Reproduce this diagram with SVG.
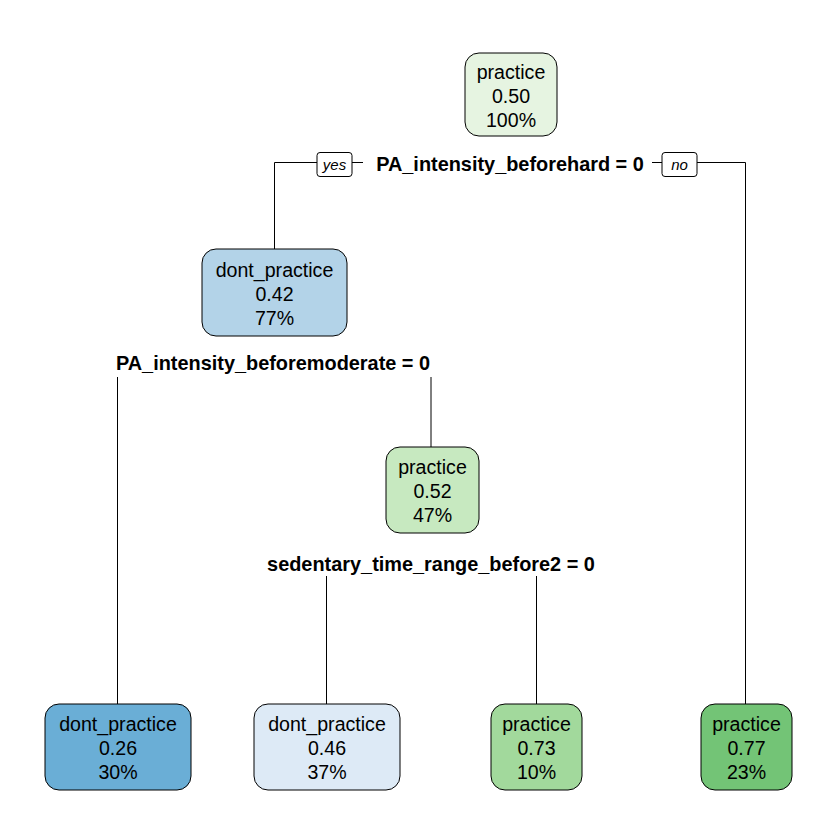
<svg xmlns="http://www.w3.org/2000/svg" width="840" height="840" viewBox="0 0 840 840">
<style>
.box{stroke:#000;stroke-width:1}
.t{font-family:"Liberation Sans",Arial,sans-serif;font-size:19.6px;text-anchor:middle;fill:#000}
.s{font-family:"Liberation Sans",Arial,sans-serif;font-size:19.9px;font-weight:bold;text-anchor:middle;fill:#000}
.yn{font-family:"Liberation Sans",Arial,sans-serif;font-size:15px;font-style:italic;text-anchor:middle;fill:#000}
.ln{stroke:#000;stroke-width:1;fill:none}
</style>
<rect width="840" height="840" fill="#fff"/>
<g id="connectors">
<polyline class="ln" points="317,162.5 274.5,162.5 274.5,249"/>
<line class="ln" x1="352" y1="162.5" x2="363" y2="162.5"/>
<line class="ln" x1="652" y1="162.5" x2="662" y2="162.5"/>
<polyline class="ln" points="697,162.5 745.5,162.5 745.5,704"/>
<line class="ln" x1="117.5" y1="377" x2="117.5" y2="704"/>
<line class="ln" x1="431" y1="377" x2="431" y2="447"/>
<line class="ln" x1="326.5" y1="576" x2="326.5" y2="704"/>
<line class="ln" x1="536.5" y1="576" x2="536.5" y2="704"/>
<rect class="box" x="317" y="152.5" width="35" height="24" rx="3" fill="#fff"/>
<text class="yn" x="334.5" y="170">yes</text>
<rect class="box" x="662" y="152.5" width="35" height="24" rx="3" fill="#fff"/>
<text class="yn" x="679.5" y="170">no</text>
</g>
<g id="node1">
<rect class="box" x="465" y="53" width="92" height="83" rx="14" fill="#E6F4E1"/>
<text class="t" x="511" y="79">practice</text>
<text class="t" x="511" y="103">0.50</text>
<text class="t" x="511" y="127">100%</text>
<text class="s" x="510" y="170.5">PA_intensity_beforehard = 0</text>
</g>
<g id="node2">
<rect class="box" x="202" y="249" width="145" height="87" rx="14" fill="#B3D3E8"/>
<text class="t" x="274.5" y="277">dont_practice</text>
<text class="t" x="274.5" y="301">0.42</text>
<text class="t" x="274.5" y="325">77%</text>
<text class="s" x="273" y="369.5">PA_intensity_beforemoderate = 0</text>
</g>
<g id="node3">
<rect class="box" x="386" y="447" width="93" height="86" rx="14" fill="#C7E9C0"/>
<text class="t" x="432.5" y="474">practice</text>
<text class="t" x="432.5" y="498">0.52</text>
<text class="t" x="432.5" y="522">47%</text>
<text class="s" x="431" y="570.5">sedentary_time_range_before2 = 0</text>
</g>
<g id="node4">
<rect class="box" x="45" y="704" width="146" height="86" rx="14" fill="#6AAED6"/>
<text class="t" x="118" y="731">dont_practice</text>
<text class="t" x="118" y="755">0.26</text>
<text class="t" x="118" y="779">30%</text>
</g>
<g id="node5">
<rect class="box" x="254" y="704" width="146" height="86" rx="14" fill="#DDEAF6"/>
<text class="t" x="327" y="731">dont_practice</text>
<text class="t" x="327" y="755">0.46</text>
<text class="t" x="327" y="779">37%</text>
</g>
<g id="node6">
<rect class="box" x="491" y="704" width="91" height="86" rx="14" fill="#A2D99C"/>
<text class="t" x="536.5" y="731">practice</text>
<text class="t" x="536.5" y="755">0.73</text>
<text class="t" x="536.5" y="779">10%</text>
</g>
<g id="node7">
<rect class="box" x="701" y="704" width="91" height="86" rx="14" fill="#73C476"/>
<text class="t" x="746.5" y="731">practice</text>
<text class="t" x="746.5" y="755">0.77</text>
<text class="t" x="746.5" y="779">23%</text>
</g>
</svg>
